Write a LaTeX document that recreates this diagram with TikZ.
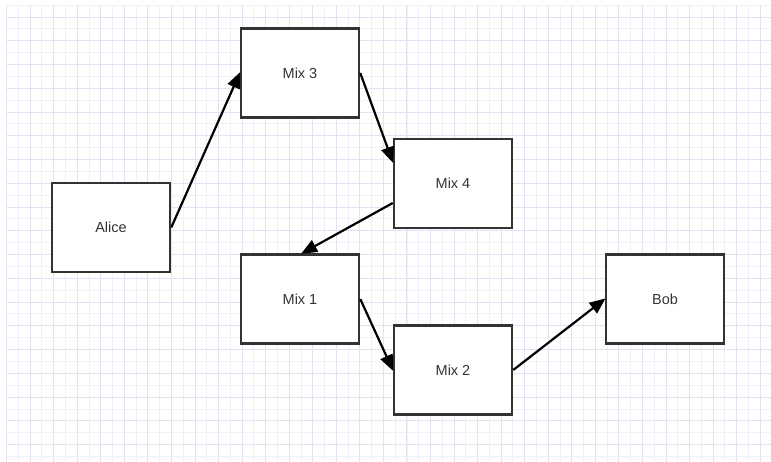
\documentclass[tikz,border=0pt]{standalone}
\usepackage{fontspec}
\setmainfont{Liberation Sans}
\usetikzlibrary{arrows.meta}
\definecolor{gridmajor}{HTML}{E2E2F2}
\definecolor{gridminor}{HTML}{F0F0F8}
\definecolor{boxline}{HTML}{333333}
\tikzset{
  mixbox/.style={draw=boxline, line width=2.5pt, fill=white, minimum width=118pt, minimum height=89pt, inner sep=0pt, text=boxline, font=\fontsize{14.5}{16}\selectfont},
  link/.style={line width=2.2pt, draw=black, -{Triangle[length=16pt,width=13pt]}, shorten >=-1pt}
}
\begin{document}
\begin{tikzpicture}[x=1pt, y=-1pt]
\useasboundingbox (0,0) rectangle (771,462);
\fill[white] (0,0) rectangle (771,462);
% minor grid
\foreach \i in {0,...,65} {
  \pgfmathsetmacro{\gx}{6.5+11.775*\i}
  \ifdim\gx pt<771pt \draw[gridminor, line width=0.7pt] (\gx,5) -- (\gx,462); \fi
}
\foreach \j in {0,...,39} {
  \pgfmathsetmacro{\gy}{5.1+11.875*\j}
  \ifdim\gy pt<462pt \draw[gridminor, line width=0.7pt] (6.5,\gy) -- (771,\gy); \fi
}
% major grid
\foreach \i in {0,...,32} {
  \pgfmathsetmacro{\gx}{6.5+23.55*\i}
  \ifdim\gx pt<771pt \draw[gridmajor, line width=0.8pt] (\gx,5) -- (\gx,462); \fi
}
\foreach \j in {0,...,19} {
  \pgfmathsetmacro{\gy}{17+23.75*\j}
  \ifdim\gy pt<462pt \draw[gridmajor, line width=0.8pt] (6.5,\gy) -- (771,\gy); \fi
}
% boxes
\node[mixbox] (alice) at (111,227.5) {Alice};
\node[mixbox] (m3) at (300,73) {Mix 3};
\node[mixbox] (m4) at (453,183.5) {Mix 4};
\node[mixbox] (m1) at (300,299) {Mix 1};
\node[mixbox] (m2) at (453,370) {Mix 2};
\node[mixbox] (bob) at (665,299) {Bob};
% connectors
\draw[link] (alice.east) -- (m3.west);
\draw[link] (m3.east) -- ([yshift=21.5pt]m4.west);
\draw[link] ([yshift=-19.5pt]m4.west) -- ([xshift=2pt]m1.north);
\draw[link] (m1.east) -- (m2.west);
\draw[link] (m2.east) -- (bob.west);
\end{tikzpicture}
\end{document}
